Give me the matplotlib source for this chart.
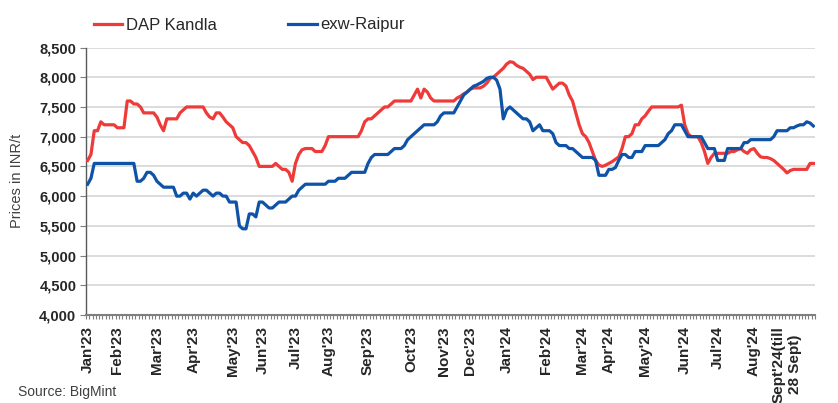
import matplotlib
matplotlib.use("Agg")
import matplotlib.pyplot as plt
from matplotlib.ticker import FuncFormatter
import numpy as np

# ---- data -------------------------------------------------------------
month_labels = ["Jan'23", "Feb'23", "Mar'23", "Apr'23", "May'23", "Jun'23",
                "Jul'23", "Aug'23", "Sep'23", "Oct'23", "Nov'23", "Dec'23",
                "Jan'24", "Feb'24", "Mar'24", "Apr'24", "May'24", "Jun'24",
                "Jul'24", "Aug'24", "Sept'24(till\n28 Sept)"]
points_per_month = [9, 12, 11, 12, 9, 10, 10, 12, 13, 10, 8, 11,
                    12, 11, 8, 11, 12, 10, 11, 10, 9]

dap_kandla = [
    6600, 6700, 7100, 7100, 7250, 7200, 7200, 7200, 7200,                      # Jan'23
    7150, 7150, 7150, 7600, 7600, 7550, 7550, 7500, 7400, 7400, 7400, 7400,    # Feb'23
    7330, 7200, 7100, 7300, 7300, 7300, 7300, 7400, 7450, 7500, 7500,          # Mar'23
    7500, 7500, 7500, 7500, 7400, 7330, 7300, 7400, 7400, 7330, 7250, 7200,    # Apr'23
    7150, 7000, 6950, 6900, 6900, 6850, 6750, 6650, 6500,                      # May'23
    6500, 6500, 6500, 6500, 6550, 6500, 6450, 6450, 6400, 6250,                # Jun'23
    6550, 6700, 6780, 6800, 6800, 6800, 6750, 6750, 6750, 6850,                # Jul'23
    7000, 7000, 7000, 7000, 7000, 7000, 7000, 7000, 7000, 7000, 7100, 7250,    # Aug'23
    7300, 7300, 7350, 7400, 7450, 7500, 7500, 7550, 7600, 7600, 7600, 7600, 7600,  # Sep'23
    7600, 7700, 7800, 7650, 7800, 7750, 7650, 7600, 7600, 7600,                # Oct'23
    7600, 7600, 7600, 7600, 7650, 7680, 7720, 7750,                            # Nov'23
    7800, 7820, 7820, 7820, 7850, 7900, 7980, 8000, 8050, 8100, 8150,          # Dec'23
    8220, 8260, 8250, 8200, 8170, 8150, 8100, 8050, 7960, 8000, 8000, 8000,    # Jan'24
    8000, 7900, 7800, 7850, 7900, 7900, 7850, 7700, 7600, 7400, 7200,          # Feb'24
    7050, 7000, 6900, 6750, 6600, 6520, 6500, 6520,                            # Mar'24
    6550, 6580, 6620, 6660, 6800, 7000, 7000, 7050, 7200, 7200, 7300,          # Apr'24
    7350, 7430, 7500, 7500, 7500, 7500, 7500, 7500, 7500, 7500, 7500, 7530,    # May'24
    7200, 7050, 7000, 7000, 7000, 6900, 6750, 6550, 6650, 6720,                # Jun'24
    6720, 6720, 6720, 6720, 6750, 6750, 6780, 6800, 6750, 6720, 6780,          # Jul'24
    6800, 6720, 6660, 6650, 6650, 6630, 6600, 6550, 6500, 6450,                # Aug'24
    6390, 6430, 6450, 6450, 6450, 6450, 6450, 6550, 6550,                      # Sep'24
]

exw_raipur = [
    6200, 6300, 6550, 6550, 6550, 6550, 6550, 6550, 6550,                      # Jan'23
    6550, 6550, 6550, 6550, 6550, 6550, 6250, 6250, 6300, 6400, 6400, 6350,    # Feb'23
    6250, 6200, 6150, 6150, 6150, 6150, 6000, 6000, 6050, 6050, 5950,          # Mar'23
    6050, 6000, 6050, 6100, 6100, 6050, 6000, 6050, 6050, 6000, 6000, 5900,    # Apr'23
    5900, 5900, 5500, 5450, 5450, 5700, 5700, 5650, 5900,                      # May'23
    5900, 5850, 5800, 5800, 5850, 5900, 5900, 5900, 5950, 6000,                # Jun'23
    6000, 6100, 6150, 6200, 6200, 6200, 6200, 6200, 6200, 6200,                # Jul'23
    6250, 6250, 6250, 6300, 6300, 6300, 6350, 6400, 6400, 6400, 6400, 6400,    # Aug'23
    6550, 6650, 6700, 6700, 6700, 6700, 6700, 6750, 6800, 6800, 6800, 6850, 6950,  # Sep'23
    7000, 7050, 7100, 7150, 7200, 7200, 7200, 7200, 7250, 7350,                # Oct'23
    7400, 7400, 7400, 7400, 7500, 7600, 7700, 7750,                            # Nov'23
    7800, 7850, 7870, 7900, 7930, 7980, 8000, 8000, 7950, 7800, 7300,          # Dec'23
    7450, 7500, 7450, 7400, 7350, 7300, 7300, 7250, 7100, 7150, 7200, 7100,    # Jan'24
    7100, 7100, 7050, 6900, 6850, 6850, 6850, 6800, 6800, 6750, 6700,          # Feb'24
    6650, 6650, 6650, 6650, 6600, 6350, 6350, 6350,                            # Mar'24
    6450, 6450, 6480, 6600, 6700, 6700, 6650, 6650, 6750, 6750, 6750,          # Apr'24
    6850, 6850, 6850, 6850, 6850, 6900, 6950, 7050, 7100, 7200, 7200, 7200,    # May'24
    7100, 7000, 7000, 7000, 7000, 7000, 6900, 6800, 6800, 6800,                # Jun'24
    6600, 6600, 6600, 6800, 6800, 6800, 6800, 6800, 6900, 6900, 6950,          # Jul'24
    6950, 6950, 6950, 6950, 6950, 6950, 7000, 7100, 7100, 7100,                # Aug'24
    7100, 7150, 7150, 7180, 7200, 7200, 7250, 7230, 7180,                      # Sep'24
]

assert len(dap_kandla) == sum(points_per_month), len(dap_kandla)
assert len(exw_raipur) == sum(points_per_month), len(exw_raipur)

# ---- figure -----------------------------------------------------------
plt.rcParams['font.family'] = ['Liberation Sans', 'DejaVu Sans']

W, H = 838, 403
fig = plt.figure(figsize=(W / 100, H / 100), dpi=100)
ax = fig.add_axes([86 / W, (H - 315) / H, (815 - 86) / W, (315 - 47.5) / H])

x = np.arange(len(dap_kandla))
red = '#EE3B39'
blue = '#0E53A7'
l1, = ax.plot(x, dap_kandla, color=red, lw=2.3, label='DAP Kandla',
              solid_joinstyle='round', zorder=3)
l2, = ax.plot(x, exw_raipur, color=blue, lw=2.3, label='exw-Raipur',
              solid_joinstyle='round', zorder=4)

ax.set_xlim(-0.5, len(x) - 0.5)
ax.set_ylim(4000, 8500)
ax.set_yticks(np.arange(4000, 8501, 500))
ax.yaxis.set_major_formatter(FuncFormatter(lambda v, p: f"{int(v):,}"))

ax.grid(axis='y', color='#D9D9D9', lw=1.3)
ax.set_axisbelow(True)

starts = np.concatenate([[0], np.cumsum(points_per_month)[:-1]])
ax.set_xticks(starts, month_labels, rotation=90, fontweight='bold',
              va='top', ha='center', multialignment='center')
ax.set_xticks(np.arange(-0.5, len(x)), minor=True)
ax.tick_params(axis='x', which='major', length=0, pad=8, labelsize=11,
               labelcolor='#262626')
ax.tick_params(axis='x', which='minor', length=3, width=0.8, color='#7F7F7F')
ax.tick_params(axis='y', which='major', length=4, width=0.8, color='#7F7F7F',
               labelsize=10.5, labelcolor='#262626', pad=3)
for lab in ax.get_yticklabels():
    lab.set_fontweight('bold')

for s in ('top', 'right'):
    ax.spines[s].set_visible(False)
ax.spines['left'].set_color('#595959')
ax.spines['left'].set_linewidth(1.0)
ax.spines['bottom'].set_color('#7F7F7F')
ax.spines['bottom'].set_linewidth(1.5)

fig.text(17 / W, 1 - 181 / H, 'Prices in INR/t', rotation=90, va='center',
         ha='center', fontsize=10.5, color='#404040')
fig.text(18 / W, 1 - 392 / H, 'Source: BigMint', va='center', ha='left',
         fontsize=10, color='#404040')

fig.legend(handles=[l1, l2], loc='center left',
           bbox_to_anchor=(94 / W, 1 - 25 / H), ncol=2, frameon=False,
           fontsize=12, handlelength=1.7, handletextpad=0.2,
           columnspacing=4.3, borderpad=0, borderaxespad=0,
           labelcolor='#262626')

fig.savefig('out.png', dpi=100)
